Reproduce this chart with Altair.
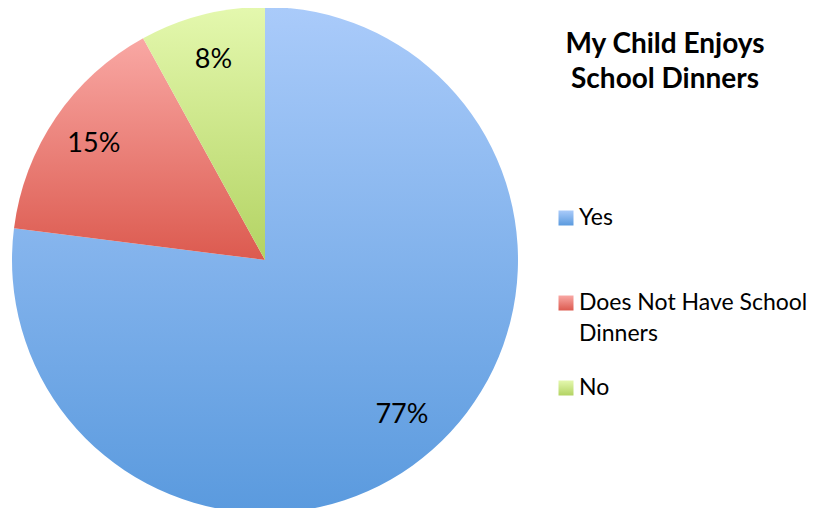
import altair as alt
import pandas as pd

categories = ["Yes", "Does Not Have School Dinners", "No"]
values = [77, 15, 8]
slice_labels = ["77%", "15%", "8%"]
legend_line1 = ["Yes", "Does Not Have School", "No"]
legend_line2 = ["", "Dinners", ""]
title_lines = ["My Child Enjoys", "School Dinners"]

top_colors = ["#aacbfa", "#f9a8a4", "#e4f8ae"]
bottom_colors = ["#5a9ade", "#dc5a4f", "#b3d363"]

df = pd.DataFrame({
    "category": categories,
    "value": values,
    "label": slice_labels,
    "line1": legend_line1,
    "line2": legend_line2,
    "idx": list(range(len(categories))),
})


def grad(i):
    return {
        "gradient": "linear",
        "x1": 0, "x2": 0, "y1": 0, "y2": 1,
        "stops": [
            {"offset": 0, "color": top_colors[i]},
            {"offset": 1, "color": bottom_colors[i]},
        ],
    }


fill_enc = alt.FillValue(
    value=grad(2),
    condition=[
        {"test": f"datum.category === '{categories[0]}'", "value": grad(0)},
        {"test": f"datum.category === '{categories[1]}'", "value": grad(1)},
    ],
)

FONT = "Lato"
CX, CY = 257, 252

theta = alt.Theta("value:Q", stack=True, scale=alt.Scale(domain=[0, 100]))

base = alt.Chart(df)

pie = base.mark_arc(outerRadius=253, stroke=None).encode(
    theta=theta,
    order=alt.Order("idx:Q"),
    detail="category:N",
    fill=fill_enc,
    x=alt.value(CX),
    y=alt.value(CY),
)

pie_text = base.mark_text(radius=207, font=FONT, fontSize=27, color="#000000").encode(
    theta=theta,
    order=alt.Order("idx:Q"),
    detail="category:N",
    text="label:N",
    x=alt.value(CX),
    y=alt.value(CY),
)

yscale = alt.Scale(domain=categories, range=[210, 380], padding=0)

leg_sq = base.mark_square(size=225, shape="square", stroke=None, opacity=1).encode(
    x=alt.value(558),
    y=alt.Y("category:N", scale=yscale, axis=None),
    fill=fill_enc,
)

leg_t1 = base.mark_text(align="left", baseline="middle", font=FONT, fontSize=23, color="#000000").encode(
    x=alt.value(571),
    y=alt.Y("category:N", scale=yscale, axis=None),
    text="line1:N",
)

leg_t2 = base.mark_text(align="left", baseline="middle", font=FONT, fontSize=23, dy=31, color="#000000").encode(
    x=alt.value(571),
    y=alt.Y("category:N", scale=yscale, axis=None),
    text="line2:N",
)

title_df = pd.DataFrame({"t": title_lines, "i": [0, 1]})
title = alt.Chart(title_df).mark_text(
    align="center", baseline="middle", font=FONT, fontSize=28, fontWeight="bold", color="#000000"
).encode(
    x=alt.value(657),
    y=alt.Y("i:O", scale=alt.Scale(range=[37, 72], padding=0), axis=None),
    text="t:N",
)

chart = alt.layer(pie, pie_text, leg_sq, leg_t1, leg_t2, title).resolve_scale(y="independent").properties(
    width=805, height=500, autosize=alt.AutoSizeParams(type="none"), padding=0
).configure_view(stroke=None)

chart.save("out.html", embed_options={"renderer": "svg", "actions": False})
